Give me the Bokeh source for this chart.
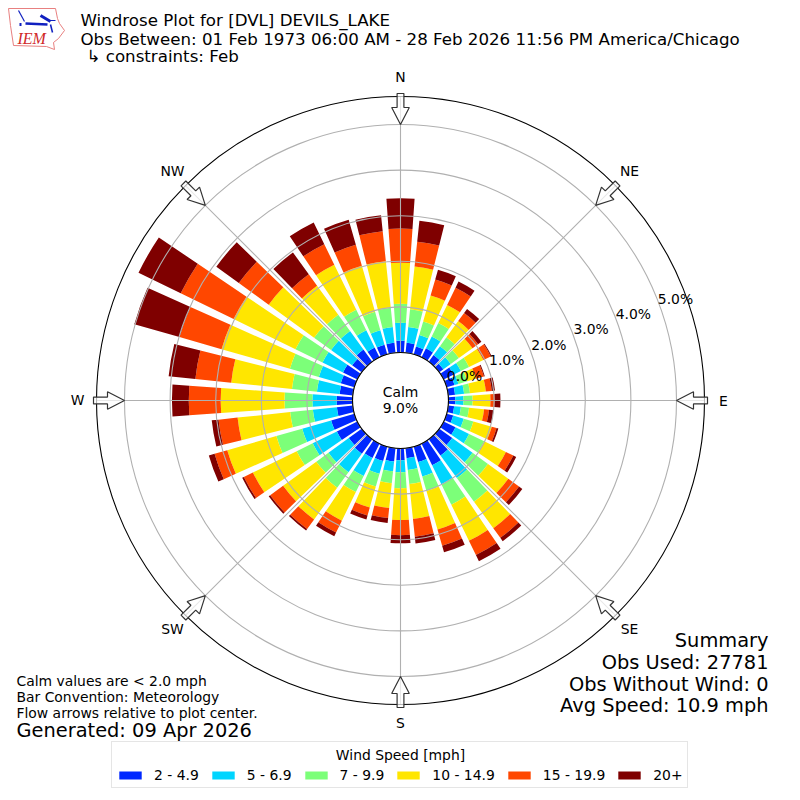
import math
from bokeh.embed import file_html
from bokeh.resources import INLINE
from bokeh.plotting import figure
from bokeh.models import Range1d, Legend, LegendItem, Label
from bokeh.core.properties import value

# Directions (degrees clockwise from north) and share of observations (%) per speed bin
directions = list(range(0, 360, 10))
bin_2_5 = [.26,.22,.18,.22,.18,.11,.24,.18,.15,.15,.13,.15,.29,.35,.44,.53,.35,.22,
           .26,.29,.33,.35,.39,.35,.50,.53,.35,.35,.29,.31,.35,.26,.33,.24,.22,.22]
bin_5_7 = [.39,.35,.26,.29,.24,.20,.18,.09,.20,.18,.15,.24,.33,.55,.61,.46,.33,.26,
           .26,.22,.29,.44,.50,.55,.59,.66,.53,.53,.50,.50,.50,.57,.50,.42,.33,.35]
bin_7_10 = [.42,.39,.31,.33,.24,.22,.20,.20,.13,.20,.18,.22,.37,.42,.64,.50,.33,.31,
            .35,.26,.29,.39,.42,.33,.39,.59,.50,.61,.55,.66,.66,.46,.44,.50,.42,.42]
bin_10_15 = [.90,.94,.59,.44,.44,.37,.35,.20,.35,.39,.33,.42,.53,.55,.72,.88,.88,.77,
             .70,.55,.48,.70,.86,.90,1.07,1.12,1.16,1.40,1.34,1.56,1.51,1.23,.79,1.10,1.05,1.03]
bin_15_20 = [.75,.55,.37,.42,.22,.15,.18,.18,.13,.09,.11,.11,.18,.29,.26,.35,.37,.39,
             .33,.22,.18,.29,.26,.35,.22,.29,.42,.70,.79,.96,1.29,.81,.31,.50,.48,.66]
bin_20_up = [.66,.46,.22,.15,.11,.09,.02,.02,.07,.13,.10,.04,.07,.09,.09,.15,.15,.15,
             .18,.11,.09,.09,.04,.04,.04,.13,.15,.37,.59,1.03,1.03,.61,.59,.53,.57,.35]
speed_labels = ["2 - 4.9", "5 - 6.9", "7 - 9.9", "10 - 14.9", "15 - 19.9", "20+"]
speed_colors = ["#0028ff", "#00d5ff", "#7cff79", "#ffe600", "#ff4700", "#7f0000"]
ring_ticks = [0, 1, 2, 3, 4, 5]
compass = ["N", "NE", "E", "SE", "S", "SW", "W", "NW"]
compass_deg = [0, 45, 90, 135, 180, 225, 270, 315]

PX = 45.6            # pixels per percent
ORIGIN = 48 / PX     # radius of calm hole, in percent units
RMAX = 304 / PX
FONT = value("DejaVu Sans")

def X(px): return (px - 400) / PX
def Y(py): return (400 - py) / PX

p = figure(width=800, height=800, output_backend="svg", toolbar_location=None,
           x_range=Range1d(X(0), X(800)), y_range=Range1d(Y(800), Y(0)),
           min_border=0, outline_line_color=None)
p.axis.visible = False
p.grid.visible = False
p.background_fill_color = "white"

# stacked bars
bins = [bin_2_5, bin_5_7, bin_7_10, bin_10_15, bin_15_20, bin_20_up]
base = [ORIGIN] * len(directions)
half = math.radians(4)
items = []
for vals, col, lab in zip(bins, speed_colors, speed_labels):
    top = [b + v for b, v in zip(base, vals)]
    ang = [math.radians(90 - d) for d in directions]
    p.annular_wedge(x=0, y=0, inner_radius=base, outer_radius=top,
                    start_angle=[a - half for a in ang], end_angle=[a + half for a in ang],
                    direction="anticlock", fill_color=col, line_color=None)
    base = top
    swatch = p.quad(left=[0], right=[0], top=[0], bottom=[0], fill_color=col, line_color=None)
    items.append(LegendItem(label=lab, renderers=[swatch]))

# grid
ring_r = [ORIGIN + t for t in ring_ticks]
p.circle(x=[0] * len(ring_r), y=[0] * len(ring_r), radius=ring_r, fill_color=None,
         line_color="#b0b0b0", line_width=1.1)
sp = [math.radians(90 - d) for d in compass_deg]
p.segment(x0=[ORIGIN * math.cos(a) for a in sp], y0=[ORIGIN * math.sin(a) for a in sp],
          x1=[RMAX * math.cos(a) for a in sp], y1=[RMAX * math.sin(a) for a in sp],
          line_color="#b0b0b0", line_width=1.1)

# spines
p.circle(x=[0, 0], y=[0, 0], radius=[ORIGIN, RMAX], fill_color=None, line_color="black", line_width=1.1)

# flow arrows
def arrow(a):
    pts = [(307, -3.4), (293, -3.4), (293, -8.8), (276, 0), (293, 8.8), (293, 3.4), (307, 3.4)]
    c, s = math.cos(a), math.sin(a)
    return ([(r * c - w * s) / PX for r, w in pts], [(r * s + w * c) / PX for r, w in pts])
axs, ays = zip(*[arrow(a) for a in sp])
p.patches(xs=list(axs), ys=list(ays), fill_color="white", fill_alpha=0.7,
          line_color="#333333", line_width=1.2)

def T(x, y, s, size, align="left", color="black", font=FONT, style="normal"):
    p.text(x=[X(x)], y=[Y(y)], text=[s], text_font=font, text_font_size=size, text_align=align,
           text_baseline="middle", text_color=color, text_font_style=style)

S10, S12, S14 = "13.9px", "16.67px", "19.4px"

# compass labels
for name, lx, ly in zip(compass, [400, 629, 723, 629, 400, 172, 77, 172],
                        [76, 170, 400, 628, 722, 628, 399, 170]):
    T(lx, ly, name, S10, "center")

# radial labels
for t in ring_ticks:
    T(464 + 42.2 * t, 375 - 15.4 * t, f"{t:.1f}%", S10, "center")

T(400, 391, "Calm", S10, "center")
T(400, 407, "9.0%", S10, "center")

# titles
T(80, 19.5, "Windrose Plot for [DVL] DEVILS_LAKE", S12)
T(80, 38.5, "Obs Between: 01 Feb 1973 06:00 AM - 28 Feb 2026 11:56 PM America/Chicago", S12)
T(86, 55.5, "↳ constraints: Feb", S12)

# summary
for ly, s in zip([639.5, 661.5, 683.5, 704.5], ["Summary", "Obs Used: 27781", "Obs Without Wind: 0", "Avg Speed: 10.9 mph"]):
    T(768, ly, s, S14, "right")
for ly, s in zip([680, 696.5, 712.5], ["Calm values are < 2.0 mph", "Bar Convention: Meteorology", "Flow arrows relative to plot center."]):
    T(16, ly, s, S10)
T(16, 729.5, "Generated: 09 Apr 2026", S14)

# logo
ox = [8, 55, 57, 59, 64, 58, 53, 54, 46, 13, 10, 8]
oy = [8, 8, 18, 23, 30, 38, 42, 49, 46, 45, 25, 8]
p.line(x=[X(v) for v in ox], y=[Y(v) for v in oy], line_color="#e88080", line_width=1)
for (x0, y0, x1, y1, w) in [(25, 23, 47, 24, 2.5), (18, 10, 24, 21, 1.2), (40, 15, 50, 21, 3),
                            (47, 20, 55, 20, 1), (50, 24, 52, 32, 1.5), (19, 24, 21, 24, 3)]:
    p.line(x=[X(x0), X(x1)], y=[Y(y0), Y(y1)], line_color="#1020c0", line_width=w)
T(17, 38, "IEM", "16px", "left", "#d02828", value("Liberation Serif"), "italic")

# legend
leg = Legend(items=items, orientation="horizontal", location=(111, 12),
             title="\u00a0", title_text_font="DejaVu Sans", title_text_font_size=S10,
             title_text_font_style="normal", title_text_color="black",
             label_text_font="DejaVu Sans", label_text_font_size=S10, label_text_color="black",
             glyph_width=28, glyph_height=10, label_standoff=10, spacing=10, padding=4, margin=0,
             border_line_color="#cccccc", border_line_width=1, background_fill_alpha=0)
p.add_layout(leg, "center")
p.add_layout(Label(x=400, y=46, x_units="screen", y_units="screen", text="Wind Speed [mph]",
                   text_font="DejaVu Sans", text_font_size=S10, text_align="center",
                   text_baseline="middle", text_color="black", level="annotation"))

open("out.html", "w").write(file_html(p, INLINE))
